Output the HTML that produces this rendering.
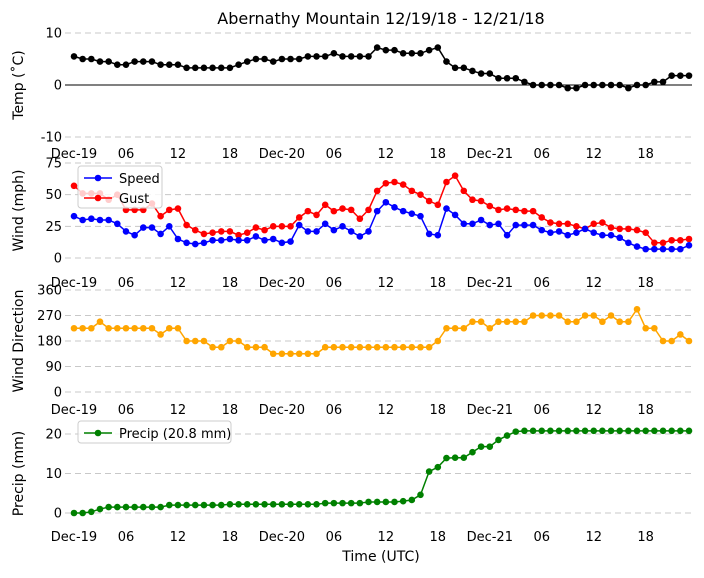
<!DOCTYPE html>
<html><head><meta charset="utf-8"><style>
body{margin:0;background:#fff;}
svg text{font-family:"DejaVu Sans","Liberation Sans",sans-serif;}
</style></head><body>
<svg id="chart" width="704" height="573" xmlns="http://www.w3.org/2000/svg"></svg>
<script>
const hours = Array.from({length:72},(_,i)=>i);
const tickLabels = ["Dec-19","06","12","18","Dec-20","06","12","18","Dec-21","06","12","18"];
const temp = [5.5,5.0,5.0,4.5,4.5,3.9,3.9,4.5,4.5,4.5,3.9,3.9,3.9,3.3,3.3,3.3,3.3,3.3,3.3,3.9,4.5,5.0,5.0,4.5,5.0,5.0,5.0,5.5,5.5,5.5,6.1,5.5,5.5,5.5,5.5,7.2,6.7,6.7,6.1,6.1,6.1,6.7,7.2,4.5,3.3,3.3,2.7,2.2,2.2,1.3,1.3,1.3,0.6,0,0,0,0,-0.6,-0.6,0,0,0,0,0,-0.6,0,0,0.6,0.6,1.8,1.8,1.8];
const speed = [33,30,31,30,30,27,21,18,24,24,19,25,15,12,11,12,14,14,15,14,14,17,14,15,12,13,26,21,21,27,22,25,21,17,21,37,44,40,37,35,33,19,18,39,34,27,27,30,26,27,18,26,26,26,22,20,21,18,20,23,20,18,18,16,12,9,7,7,7,7,7,10];
const gust = [57,51,51,51,46,50,38,38,38,43,33,38,39,26,22,19,20,21,21,18,20,24,22,25,25,25,32,37,34,42,37,39,38,31,38,53,59,60,58,53,50,45,42,60,65,53,46,45,41,38,39,38,37,37,32,28,27,27,25,23,27,28,24,23,23,22,20,12,12,14,14,15];
const dir = [225,225,225,248,225,225,225,225,225,225,203,225,225,180,180,180,158,158,180,180,158,158,158,135,135,135,135,135,135,158,158,158,158,158,158,158,158,158,158,158,158,158,180,225,225,225,248,248,225,248,248,248,248,270,270,270,270,248,248,270,270,248,270,248,248,292,225,225,180,180,203,180];
const precip = [0,0,0.3,1.0,1.5,1.5,1.5,1.5,1.5,1.5,1.5,2.0,2.0,2.0,2.0,2.0,2.0,2.0,2.2,2.2,2.2,2.2,2.2,2.2,2.2,2.2,2.2,2.2,2.2,2.5,2.5,2.5,2.5,2.5,2.8,2.8,2.8,2.8,3.0,3.3,4.6,10.5,11.6,13.9,14.0,14.0,15.4,16.8,16.8,18.5,19.6,20.6,20.8,20.8,20.8,20.8,20.8,20.8,20.8,20.8,20.8,20.8,20.8,20.8,20.8,20.8,20.8,20.8,20.8,20.8,20.8,20.8];

const svg=document.getElementById('chart');
const NS='http://www.w3.org/2000/svg';
function mk(tag,attrs,parent){const e=document.createElementNS(NS,tag);for(const k in attrs)e.setAttribute(k,attrs[k]);(parent||svg).appendChild(e);return e;}
const X0=74, X1=689;
const xs=h=>X0+(X1-X0)*h/71;

const panels=[
 {name:'temp',top:33,bot:137,min:-10,max:10,ticks:[-10,0,10],grid:[10,-10],label:'Temp (˚C)',lab:153},
 {name:'wind',top:163,bot:258,min:0,max:75,ticks:[0,25,50,75],grid:[0,25,50,75],label:'Wind (mph)',lab:282},
 {name:'dir',top:290,bot:392,min:0,max:360,ticks:[0,90,180,270,360],grid:[0,90,180,270,360],label:'Wind Direction',lab:409},
 {name:'precip',top:434,bot:513,min:0,max:20,ticks:[0,10,20],grid:[0,10,20],label:'Precip (mm)',lab:536}
];
panels.forEach(p=>{p.y=v=>p.bot-(v-p.min)/(p.max-p.min)*(p.bot-p.top);});

let t=mk('text',{x:381,y:24,'text-anchor':'middle','font-size':16,fill:'#000'});t.textContent='Abernathy Mountain 12/19/18 - 12/21/18';



panels.forEach(p=>{
  const g=mk('g',{});
  
  
  p.grid.forEach(v=>{const l=mk('line',{x1:65,x2:692,y1:p.y(v),y2:p.y(v),stroke:'#c8c8c8','stroke-dasharray':'6,4','stroke-width':1},g);
    
    });
  p.ticks.forEach(v=>{const tt=mk('text',{x:62,y:p.y(v)+4.5,'text-anchor':'end','font-size':13,fill:'#000'},g);tt.textContent=v;
    
    });
  tickLabels.forEach((s,i)=>{const tt=mk('text',{x:xs(i*6),y:p.lab+5,'text-anchor':'middle','font-size':13,fill:'#000'},g);tt.textContent=s;
    
    });
  const cy=(p.top+p.bot)/2;
  const yl=mk('text',{x:0,y:0,transform:`translate(23,${cy}) rotate(-90)`,'text-anchor':'middle','font-size':14,fill:'#000'},g);yl.textContent=p.label;
  
  
});
const zl=mk('line',{x1:65,x2:692,y1:panels[0].y(0),y2:panels[0].y(0),stroke:'#000','stroke-width':1});



function series(p,data,color,name){
  const g=mk('g',{});
  
  
  mk('polyline',{points:data.map((v,i)=>xs(hours[i])+','+p.y(v)).join(' '),fill:'none',stroke:color,'stroke-width':1.5},g);
  data.forEach((v,i)=>{const c=mk('circle',{cx:xs(hours[i]),cy:p.y(v),r:3.3,fill:color},g);
    
    });
}
series(panels[0],temp,'#000','temp');
series(panels[1],gust,'#ff0000','gust');
series(panels[1],speed,'#0000ff','speed');
series(panels[2],dir,'#ffa500','direction');
series(panels[3],precip,'#008000','precip');

function legend(x,y,w,h,items,name){
  const g=mk('g',{});
  
  
  mk('rect',{x,y,width:w,height:h,rx:3,fill:'rgba(255,255,255,0.8)',stroke:'#ccc'},g);
  items.forEach((it,i)=>{const yy=y+12+i*20;
    mk('line',{x1:x+6,x2:x+34,y1:yy,y2:yy,stroke:it[1],'stroke-width':1.5},g);
    mk('circle',{cx:x+20,cy:yy,r:3.3,fill:it[1]},g);
    const tt=mk('text',{x:x+41,y:yy+5,'font-size':13,fill:'#000'},g);tt.textContent=it[0];
    
    });
}
legend(78,166,84,42,[['Speed','#0000ff'],['Gust','#ff0000']],'wind-legend');
legend(78,421,153,22,[['Precip (20.8 mm)','#008000']],'precip-legend');

const xt=mk('text',{x:381,y:561,'text-anchor':'middle','font-size':14,fill:'#000'});xt.textContent='Time (UTC)';


</script>
</body></html>
